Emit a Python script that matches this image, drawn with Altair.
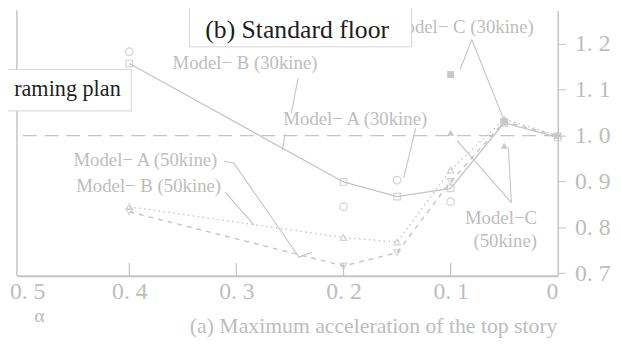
import altair as alt
import pandas as pd

# ---------------- data ----------------
alpha = [0.4, 0.2, 0.15, 0.1, 0.05, 0.0]
model_b30 = [1.157, 0.899, 0.867, 0.885, 1.028, 0.996]
model_a50 = [0.834, 0.716, 0.745, 0.900, 1.030, 1.000]
model_b50 = [0.845, 0.778, 0.768, 0.925, 1.036, 1.000]

alpha_a30 = [0.4, 0.2, 0.15, 0.1]
model_a30 = [1.183, 0.845, 0.903, 0.856]

alpha_c = [0.1, 0.05]
model_c30 = [1.133, 1.030]
model_c50 = [1.006, 0.978]

x_ticks = [0.0, 0.1, 0.2, 0.3, 0.4, 0.5]
y_ticks = [0.7, 0.8, 0.9, 1.0, 1.1, 1.2]
x_domain = [0.0, 0.505]
y_domain = [0.6946, 1.273]

label_text = ["Model− C (30kine)", "Model− B (30kine)", "Model− A (30kine)",
              "Model− A (50kine)", "Model− B (50kine)", "Model−C", "(50kine)"]
label_a = [0.090, 0.292, 0.189, 0.385, 0.382, 0.053, 0.049]
label_v = [1.237, 1.157, 1.037, 0.946, 0.890, 0.820, 0.770]

leader_group = ["c30", "c30", "c30", "b30a", "b30a", "b30b", "b30b", "a30", "a30",
                "a50", "a50", "a50", "a50", "b50", "b50", "c50a", "c50a", "c50b", "c50b"]
leader_a = [0.0912, 0.0802, 0.0507, 0.2424, 0.2488, 0.2544, 0.2571, 0.1327, 0.1438,
            0.3115, 0.3023, 0.2415, 0.2295, 0.3106, 0.2839, 0.0461, 0.0433, 0.0940, 0.0433]
leader_v = [1.144, 1.209, 1.037, 1.125, 1.049, 1.004, 0.968, 1.015, 0.908,
            0.944, 0.940, 0.735, 0.746, 0.877, 0.806, 0.974, 0.854, 0.989, 0.854]

box_text = ["(b) Standard floor", "raming plan"]
box_a = [0.3438, 0.5346]
box_a2 = [0.1364, 0.3982]
box_v = [1.2796, 1.1441]
box_v2 = [1.1935, 1.0538]
box_text_a = [0.2433, 0.4578]
box_text_v = [1.230, 1.101]
box_font = [26, 22.5]

# ---------------- styling ----------------
LINE = "#c4c4c4"
TEXT = "#bdbdbd"
SERIF = "Liberation Serif"

x = alt.X("a:Q",
          scale=alt.Scale(domain=x_domain, reverse=True, nice=False, zero=False),
          axis=alt.Axis(orient="bottom", values=x_ticks,
                        labelExpr="datum.value == 0 ? '0' : replace(format(datum.value, '.1f'), '.', '. ')",
                        labelFont=SERIF, labelFontSize=24, labelColor=TEXT, labelPadding=4,
                        labelOffset={"expr": "datum.value == 0.5 ? 5 : 0"},
                        ticks=False, grid=False, domainColor=LINE, domainWidth=2,
                        title="(a) Maximum acceleration of the top story",
                        titleFont=SERIF, titleFontSize=22, titleFontWeight="normal",
                        titleColor=TEXT, titleX=361, titleY=50, titleBaseline="middle"))
y = alt.Y("v:Q",
          scale=alt.Scale(domain=y_domain, nice=False, zero=False),
          axis=alt.Axis(orient="right", values=y_ticks,
                        labelExpr="replace(format(datum.value, '.1f'), '.', '. ')",
                        labelFont=SERIF, labelFontSize=24, labelColor=TEXT, labelPadding=9,
                        tickSize=8, tickColor=LINE, grid=False, domainColor=LINE,
                        domainWidth=1.5, title=""))

series = pd.DataFrame({
    "a": alpha * 3,
    "v": model_b30 + model_a50 + model_b50,
    "s": ["B30"] * 6 + ["A50"] * 6 + ["B50"] * 6,
})
b30 = series[series.s == "B30"]
a50 = series[series.s == "A50"]
b50 = series[series.s == "B50"]
a30 = pd.DataFrame({"a": alpha_a30, "v": model_a30})
c30 = pd.DataFrame({"a": alpha_c, "v": model_c30})
c50 = pd.DataFrame({"a": alpha_c, "v": model_c50})

ref = pd.DataFrame({"v": [1.0]})
left_frame = pd.DataFrame({"a": [x_domain[1]]})
inner_ticks = pd.DataFrame({"a": x_ticks[1:5], "v": [y_domain[0]] * 4,
                            "v2": [y_domain[0] + 0.028] * 4})
labels = pd.DataFrame({"a": label_a, "v": label_v, "t": label_text})
leaders = pd.DataFrame({"a": leader_a, "v": leader_v, "g": leader_group,
                        "o": list(range(len(leader_a)))})
boxes = pd.DataFrame({"a": box_a, "a2": box_a2, "v": box_v, "v2": box_v2})
box_labels = pd.DataFrame({"a": box_text_a, "v": box_text_v, "t": box_text, "f": box_font})
alpha_lbl = pd.DataFrame({"a": [0.4839], "v": [0.6065], "t": ["α"]})

layers = [
    alt.Chart(ref).mark_rule(color=LINE, strokeWidth=1.3, strokeDash=[14, 8]).encode(y=y),
    alt.Chart(left_frame).mark_rule(color=LINE, strokeWidth=1.5).encode(x=x),
    alt.Chart(inner_ticks).mark_rule(color=LINE, strokeWidth=1.2).encode(x=x, y=y, y2="v2:Q"),
    alt.Chart(b30).mark_line(color=LINE, strokeWidth=1.3).encode(x=x, y=y),
    alt.Chart(a50).mark_line(color=LINE, strokeWidth=1.4, strokeDash=[5, 5]).encode(x=x, y=y),
    alt.Chart(b50).mark_line(color=LINE, strokeWidth=1.4, strokeDash=[1.5, 3.5]).encode(x=x, y=y),
    alt.Chart(b30).mark_point(shape="square", filled=False, size=45, color=LINE, strokeWidth=1.2).encode(x=x, y=y),
    alt.Chart(a30).mark_point(shape="circle", filled=False, size=60, color=LINE, strokeWidth=1.2).encode(x=x, y=y),
    alt.Chart(a50).mark_point(shape="triangle-down", filled=False, size=45, color=LINE, strokeWidth=1.2).encode(x=x, y=y),
    alt.Chart(b50).mark_point(shape="triangle-up", filled=False, size=45, color=LINE, strokeWidth=1.2).encode(x=x, y=y),
    alt.Chart(c30).mark_point(shape="square", filled=True, size=50, color="#c8c8c8", opacity=1).encode(x=x, y=y),
    alt.Chart(c50).mark_point(shape="triangle-up", filled=True, size=50, color="#c8c8c8", opacity=1).encode(x=x, y=y),
    alt.Chart(leaders).mark_line(color=LINE, strokeWidth=1.1).encode(x=x, y=y, detail="g:N", order="o:Q"),
    alt.Chart(labels).mark_text(font=SERIF, fontSize=19, color=TEXT).encode(x=x, y=y, text="t:N"),
    alt.Chart(alpha_lbl).mark_text(font=SERIF, fontSize=20, color=TEXT).encode(x=x, y=y, text="t:N"),
    alt.Chart(boxes).mark_rect(fill="white", stroke="#d4d4d4", strokeWidth=1).encode(x=x, x2="a2:Q", y=y, y2="v2:Q"),
    alt.Chart(box_labels).mark_text(font=SERIF, color="#1e1e1e").encode(
        x=x, y=y, text="t:N", size=alt.Size("f:Q", scale=None, legend=None)),
]

chart = alt.layer(*layers).properties(
    width=548, height=269,
    autosize=alt.AutoSizeParams(type="none"),
    padding={"left": 9, "top": 0, "right": 56, "bottom": 83},
    background="white",
).configure_view(stroke=None)

chart.save("out.html", embed_options={"renderer": "svg", "actions": False})
